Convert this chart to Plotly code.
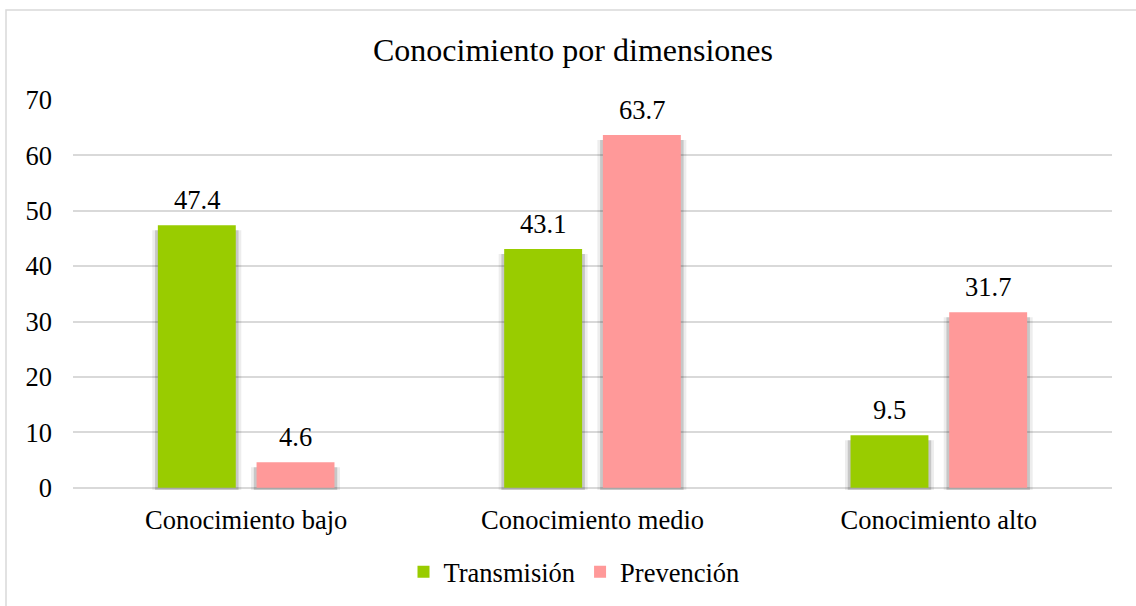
import plotly.graph_objects as go

categories = ["Conocimiento bajo", "Conocimiento medio", "Conocimiento alto"]
transmision = [47.4, 43.1, 9.5]
prevencion = [4.6, 63.7, 31.7]
series_names = ["Transmisión", "Prevención"]
y_ticks = [0, 10, 20, 30, 40, 50, 60, 70]

GREEN = "#99cc00"
PINK = "#ff9999"
FONT = "Liberation Serif, Times New Roman, serif"

W, H = 1136, 606
L, R, T, B = 73, 24, 100, 116
CAT_PX = (W - L - R) / len(categories)

BAR_W = 0.225
OFFSETS = [-0.255, 0.03]

fig = go.Figure()

# soft drop shadow behind each bar
for vals, off in zip([transmision, prevencion], OFFSETS):
    for grow, alpha in [(0.016, 0.07), (0.008, 0.16)]:
        fig.add_trace(go.Bar(
            x=categories, y=[v - 0.4 for v in vals], base=-0.5,
            width=BAR_W + 2 * grow, offset=off - grow,
            marker=dict(color=f"rgba(0,0,0,{alpha})", line=dict(width=0)),
            showlegend=False, hoverinfo="skip",
        ))

for name, vals, off, col in zip(series_names, [transmision, prevencion], OFFSETS, [GREEN, PINK]):
    fig.add_trace(go.Bar(
        x=categories, y=vals, name=name,
        width=BAR_W, offset=off,
        marker=dict(color=col, line=dict(width=0)),
    ))
    for c, v in zip(categories, vals):
        fig.add_annotation(
            x=c, y=v, text=f"{v}", showarrow=False,
            xshift=(off + BAR_W / 2) * CAT_PX, yanchor="bottom", yshift=8,
            font=dict(family=FONT, size=26.5, color="#000000"),
        )

# outer chart border
top_px, left_px = 10, 6
plot_h = H - T - B
fig.add_shape(
    type="rect", xref="paper", yref="paper",
    x0=(left_px - L) / (W - L - R), x1=1.08,
    y0=-0.4, y1=(H - B - top_px) / plot_h,
    line=dict(color="#d9d9d9", width=1.5), fillcolor="rgba(0,0,0,0)",
)

fig.update_layout(
    width=W, height=H,
    margin=dict(l=L, r=R, t=T, b=B),
    barmode="overlay",
    plot_bgcolor="white", paper_bgcolor="white",
    font=dict(family=FONT, size=26.5, color="#000000"),
    title=dict(
        text="Conocimiento por dimensiones",
        x=573 / W, xref="container", xanchor="center",
        y=1 - 50 / H, yref="container", yanchor="middle",
        font=dict(family=FONT, size=32, color="#000000"),
    ),
    xaxis=dict(
        showgrid=False, showline=False, ticks="",
        ticklabelstandoff=11,
        tickfont=dict(family=FONT, size=26.5, color="#000000"),
    ),
    yaxis=dict(
        range=[-0.4, 70], tickvals=y_ticks,
        showgrid=True, gridcolor="#d9d9d9", gridwidth=1.5,
        zeroline=True, zerolinecolor="#d9d9d9", zerolinewidth=1.5,
        showline=False, ticks="", ticklabelstandoff=20,
        tickfont=dict(family=FONT, size=26.5, color="#000000"),
    ),
    legend=dict(
        orientation="h",
        x=574 / W, xref="container", xanchor="center",
        y=1 - 572 / H, yref="container", yanchor="middle",
        font=dict(family=FONT, size=26.5, color="#000000"),
        itemwidth=30,
    ),
)

fig.write_html(
    "out.html",
    config={"displayModeBar": False},
    post_script="document.body.style.margin='0';",
)
